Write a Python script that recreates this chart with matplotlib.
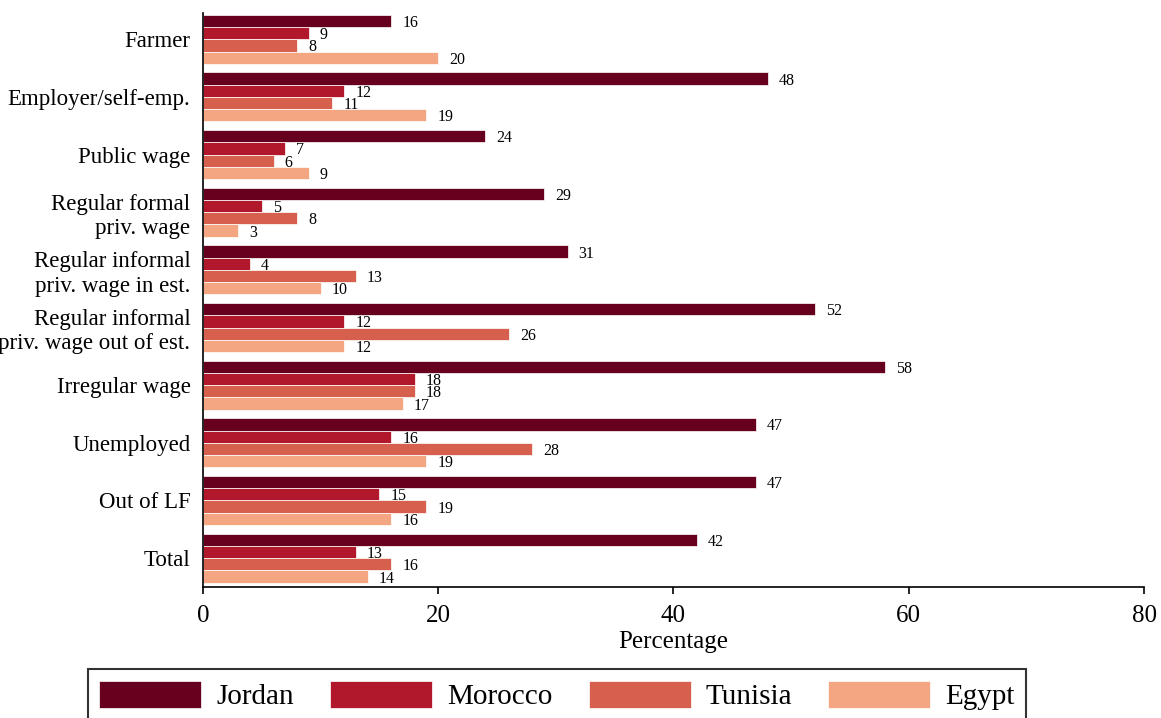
import numpy as np
import matplotlib
matplotlib.use("Agg")
import matplotlib.pyplot as plt

plt.rcParams['font.family'] = ['Liberation Serif', 'DejaVu Serif']

# ================================================================================================
# Data: share by employment status, per country (%)
# ================================================================================================

categories = [
    "Farmer",
    "Employer/self-emp.",
    "Public wage",
    "Regular formal\npriv. wage",
    "Regular informal\npriv. wage in est.",
    "Regular informal\npriv. wage out of est.",
    "Irregular wage",
    "Unemployed",
    "Out of LF",
    "Total",
]

countries = ["Jordan", "Morocco", "Tunisia", "Egypt"]

jordan  = [16, 48, 24, 29, 31, 52, 58, 47, 47, 42]
morocco = [9, 12, 7, 5, 4, 12, 18, 16, 15, 13]
tunisia = [8, 11, 6, 8, 13, 26, 18, 28, 19, 16]
egypt   = [20, 19, 9, 3, 10, 12, 17, 19, 16, 14]

colors = ['#67001f', '#b2182b', '#d6604d', '#f4a582']

# ================================================================================================
# Plot grouped horizontal bars
# ================================================================================================

fig = plt.figure(figsize=(11.61, 7.18), dpi=100)
ax = fig.add_axes([0.1748, 0.1825, 0.8106, 0.7998])

y = np.arange(len(categories))
bar_h = 0.213

for id, vals in enumerate([jordan, morocco, tunisia, egypt]):
    pos = y + (id - 1.5) * bar_h
    ax.barh(pos, vals, height=bar_h, color=colors[id], edgecolor='white',
            linewidth=0.5, label=countries[id])
    for p, v in zip(pos, vals):
        ax.annotate(f"{v}", xy=(v, p), xytext=(8, -1.5), textcoords='offset points',
                    ha='left', va='center', fontsize=11.5)

ax.set_ylim(9.5, -0.46)
ax.set_xlim(0, 80)
ax.set_xticks([0, 20, 40, 60, 80])
ax.set_yticks(y)
ax.set_yticklabels(categories, fontsize=16.5)
ax.tick_params(axis='y', length=0, pad=9)
ax.tick_params(axis='x', length=5, width=1.2, labelsize=18, pad=8)
ax.set_xlabel("Percentage", fontsize=18, labelpad=3)

for side in ['top', 'right']:
    ax.spines[side].set_visible(False)
for side in ['left', 'bottom']:
    ax.spines[side].set_linewidth(1.2)

leg = fig.legend(loc='upper left', bbox_to_anchor=(87.7 / 1161, 1 - 669 / 718),
                 bbox_transform=fig.transFigure, borderaxespad=0, ncol=4, fontsize=21,
                 handlelength=3.5, handleheight=1.05, handletextpad=0.5,
                 columnspacing=1.25, borderpad=0.4, fancybox=False,
                 edgecolor='#333333', framealpha=1)
leg.get_frame().set_linewidth(1.5)

fig.savefig("out.png", dpi=100)
